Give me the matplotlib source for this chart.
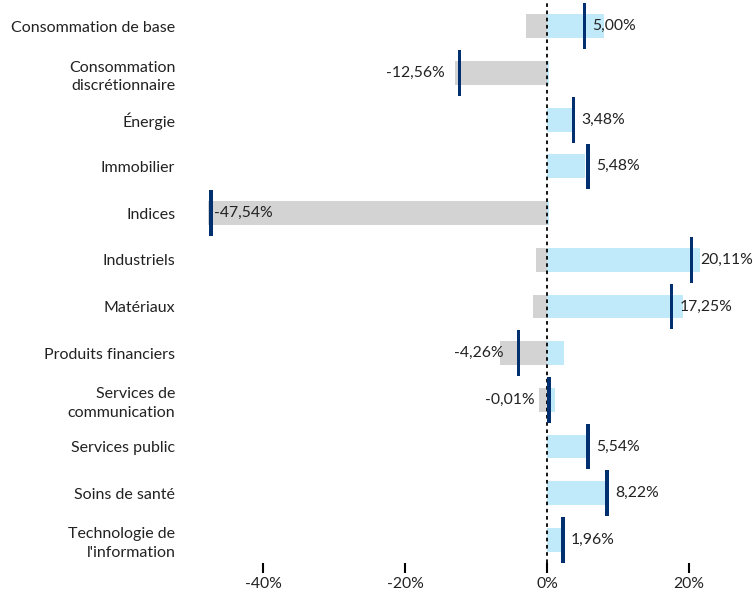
import matplotlib.pyplot as plt

# sector performance: negative part, positive part, net value
categories = ["Consommation de base", "Consommation\ndiscrétionnaire", "Énergie",
              "Immobilier", "Indices", "Industriels", "Matériaux",
              "Produits financiers", "Services de\ncommunication", "Services public",
              "Soins de santé", "Technologie de\nl'information"]
neg_part = [-2.9, -12.9, 0, 0, -47.8, -1.5, -2.0, -6.6, -1.1, 0, 0, 0]
pos_part = [8.0, 0.3, 3.5, 5.4, 0.3, 21.6, 19.2, 2.4, 1.1, 5.6, 8.3, 2.2]
net = [5.00, -12.56, 3.48, 5.48, -47.54, 20.11, 17.25, -4.26, -0.01, 5.54, 8.22, 1.96]
labels = ["5,00%", "-12,56%", "3,48%", "5,48%", "-47,54%", "20,11%", "17,25%",
          "-4,26%", "-0,01%", "5,54%", "8,22%", "1,96%"]
xticks = [-40, -20, 0, 20]
xtick_labels = ["-40%", "-20%", "0%", "20%"]

GRAY = "#d3d3d3"
BLUE = "#c0e9f9"
NAVY = "#003070"
TXT = "#222222"

plt.rcParams['font.family'] = ['Lato', 'DejaVu Sans']

fig = plt.figure(figsize=(7.53, 5.96), dpi=100)
ax = fig.add_axes([0.255, 0.055, 0.745, 0.94])

y = list(range(len(categories)))
ax.barh(y, neg_part, height=0.51, color=GRAY, zorder=2)
ax.barh(y, pos_part, height=0.51, color=BLUE, zorder=2)
ax.barh(y, 0.5, left=net, height=0.98, color=NAVY, zorder=4)
ax.axvline(0, color="black", linestyle=(0, (2, 2)), linewidth=1.3, zorder=3)

for yi, v, lab in zip(y, net, labels):
    if v >= 0:
        ax.text(v + 1.4, yi, lab, ha="left", va="center", fontsize=11.3, color=TXT, zorder=5)
    elif v < -40:
        ax.text(v + 0.7, yi, lab, ha="left", va="center", fontsize=11.3, color=TXT, zorder=5)
    else:
        ax.text(v - 1.8, yi, lab, ha="right", va="center", fontsize=11.3, color=TXT, zorder=5)

ax.set_xlim(-50, 29)
ax.set_ylim(len(categories) - 0.5, -0.5)
ax.set_yticks(y)
ax.set_yticklabels(categories, fontsize=11.5, color=TXT)
for t in ax.get_yticklabels():
    t.set_linespacing(1.45)
ax.tick_params(axis="y", length=0, pad=12)
ax.set_xticks(xticks)
ax.set_xticklabels(xtick_labels, fontsize=11.3, color=TXT)
ax.tick_params(axis="x", direction="out", length=7, width=1.5, color="black", pad=3)
for s in ax.spines.values():
    s.set_visible(False)

fig.savefig("out.png", dpi=100)
